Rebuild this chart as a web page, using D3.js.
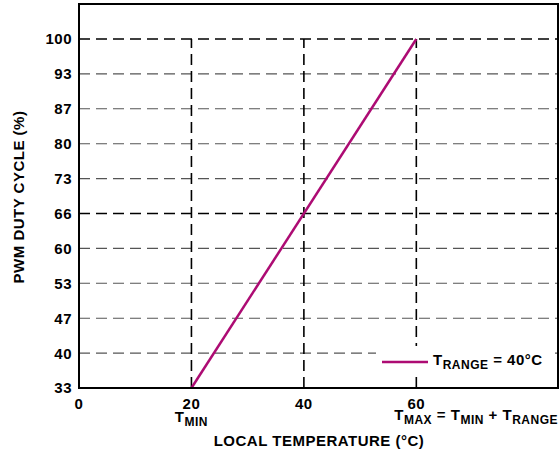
<!DOCTYPE html>
<html>
<head>
<meta charset="utf-8">
<script src="https://cdn.jsdelivr.net/npm/d3@7"></script>
<style>
  body { margin: 0; background: #fff; }
  svg { font-family: "Liberation Sans", Arial, sans-serif; font-weight: bold; letter-spacing: 0.5px; }
</style>
</head>
<body>
<div id="chart"></div>
<script>
// data
const dutyTicks = [33, 40, 47, 53, 60, 66, 73, 80, 87, 93, 100];
const tempTicks = [0, 20, 40, 60];
const markerTemps = [20, 40, 60];
const strongDuty = [100, 66];
const curve = [{ temp: 20, duty: 33 }, { temp: 60, duty: 100 }];

const W = 560, H = 453;
const plotLeft = 79, plotRight = 558, plotTop = 4, plotBottom = 388;

const svg = d3.select("#chart").append("svg")
  .attr("width", W).attr("height", H);

const x = d3.scaleLinear().domain([0, 85.2]).range([plotLeft, plotRight]);
const y = d3.scalePoint().domain(dutyTicks).range([plotBottom, 39]);

// horizontal grid
svg.append("g").selectAll("line")
  .data(dutyTicks.slice(1))
  .enter().append("line")
  .attr("x1", plotLeft).attr("x2", plotRight)
  .attr("y1", d => y(d)).attr("y2", d => y(d))
  .attr("stroke", d => strongDuty.includes(d) ? "#000" : "#555")
  .attr("stroke-width", d => strongDuty.includes(d) ? 1.6 : 1.1)
  .attr("stroke-dasharray", "11,6");

// vertical markers
svg.append("g").selectAll("line")
  .data(markerTemps)
  .enter().append("line")
  .attr("x1", d => x(d)).attr("x2", d => x(d))
  .attr("y1", plotBottom).attr("y2", y(100))
  .attr("stroke", "#000")
  .attr("stroke-width", 1.6)
  .attr("stroke-dasharray", "11,6");

// legend box (white background)
svg.append("rect")
  .attr("x", 376).attr("y", 346).attr("width", 178).attr("height", 30)
  .attr("fill", "#fff");

// curve
svg.append("path")
  .datum(curve)
  .attr("fill", "none")
  .attr("stroke", "#ad0b73")
  .attr("stroke-width", 2.5)
  .attr("d", d3.line().x(d => x(d.temp)).y(d => y(d.duty)));

// frame
svg.append("rect")
  .attr("x", plotLeft).attr("y", plotTop)
  .attr("width", plotRight - plotLeft).attr("height", plotBottom - plotTop)
  .attr("fill", "none").attr("stroke", "#000").attr("stroke-width", 2);

// y tick labels
svg.append("g").selectAll("text")
  .data(dutyTicks)
  .enter().append("text")
  .attr("x", plotLeft - 7)
  .attr("y", d => y(d))
  .attr("dy", "0.36em")
  .attr("text-anchor", "end")
  .style("font-size", "15px")
  .text(d => d);

// x tick labels
svg.append("g").selectAll("text")
  .data(tempTicks)
  .enter().append("text")
  .attr("x", d => x(d))
  .attr("y", 409)
  .attr("text-anchor", "middle")
  .style("font-size", "15px")
  .text(d => d);

// T_MIN
const tmin = svg.append("text")
  .attr("x", x(20)).attr("y", 422)
  .attr("text-anchor", "middle")
  .style("font-size", "15px");
tmin.append("tspan").text("T");
tmin.append("tspan").attr("dy", 4).style("font-size", "12px").text("MIN");

// T_MAX = T_MIN + T_RANGE
const tmax = svg.append("text")
  .attr("x", plotRight).attr("y", 420)
  .attr("text-anchor", "end")
  .style("font-size", "15px");
tmax.append("tspan").text("T");
tmax.append("tspan").attr("dy", 4).style("font-size", "12px").text("MAX");
tmax.append("tspan").attr("dy", -4).text(" = T");
tmax.append("tspan").attr("dy", 4).style("font-size", "12px").text("MIN");
tmax.append("tspan").attr("dy", -4).text(" + T");
tmax.append("tspan").attr("dy", 4).style("font-size", "12px").text("RANGE");

// axis titles
svg.append("text")
  .attr("x", 319).attr("y", 446)
  .attr("text-anchor", "middle")
  .style("font-size", "15px")
  .text("LOCAL TEMPERATURE (°C)");

svg.append("text")
  .attr("transform", `translate(24, 197) rotate(-90)`)
  .attr("text-anchor", "middle")
  .style("font-size", "15px")
  .text("PWM DUTY CYCLE (%)");

// legend
svg.append("line")
  .attr("x1", 382).attr("x2", 428)
  .attr("y1", 362).attr("y2", 362)
  .attr("stroke", "#ad0b73").attr("stroke-width", 2.5);

const lg = svg.append("text")
  .attr("x", 433).attr("y", 365)
  .style("font-size", "15px");
lg.append("tspan").text("T");
lg.append("tspan").attr("dy", 4).style("font-size", "12px").text("RANGE");
lg.append("tspan").attr("dy", -4).text(" = 40°C");
</script>
</body>
</html>
